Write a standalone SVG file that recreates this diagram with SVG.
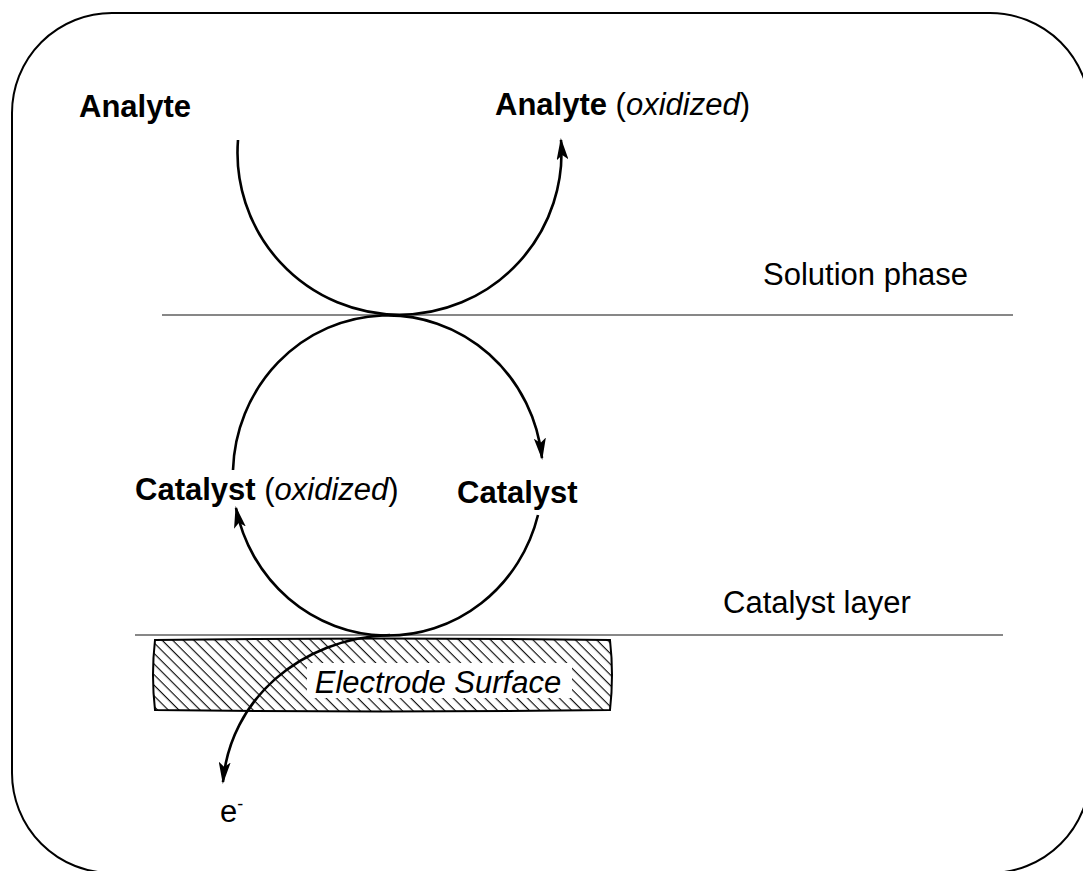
<svg xmlns="http://www.w3.org/2000/svg" width="1083" height="871" viewBox="0 0 1083 871">
<defs>
<style>
.t{font-family:"Liberation Sans",Arial,sans-serif;font-size:31px;fill:#000}
.b{font-weight:bold}
.i{font-style:italic}
.arc{fill:none;stroke:#000;stroke-width:2.6}
.ln{stroke:#111;stroke-width:1.1}
</style>
<marker id="ah" viewBox="0 0 22 12" refX="20" refY="6" markerWidth="22" markerHeight="12" markerUnits="userSpaceOnUse" orient="auto">
<path d="M0,0 L22,6 L0,12 L5,6 Z" fill="#000"/>
</marker>
<pattern id="hatch" patternUnits="userSpaceOnUse" width="7.5" height="7.5" patternTransform="rotate(45)">
<line x1="0" y1="0.6" x2="7.5" y2="0.6" stroke="#000" stroke-width="1.1"/>
</pattern>
</defs>
<rect x="12" y="13" width="1078" height="860" rx="100" ry="100" fill="#fff" stroke="#000" stroke-width="2"/>
<g id="layers">
<line class="ln" x1="162" y1="315" x2="1013" y2="315"/>
<line class="ln" x1="135" y1="635" x2="1003" y2="635"/>
</g>
<g id="electrode">
<path d="M155 640 Q383 637 610 640 Q614 675 610 710 Q383 713 155 710 Q151 675 155 640 Z" fill="url(#hatch)" stroke="#000" stroke-width="2"/>
<rect x="307" y="663" width="265" height="35" fill="#fff"/>
<text class="t i" x="438" y="693" text-anchor="middle" font-size="32">Electrode Surface</text>
</g>
<g id="connectors">
<path class="arc" d="M238 140 A162 162 0 1 0 561 140" marker-end="url(#ah)"/>
<path class="arc" d="M233 470 A155 160 0 0 1 542 458" marker-end="url(#ah)"/>
<path class="arc" d="M538 515 A155 160 0 0 1 236 508" marker-end="url(#ah)"/>
<path class="arc" d="M390 635 C300 638 230 700 223 782" marker-end="url(#ah)"/>
</g>
<g id="analyte"><text class="t b" x="79" y="117">Analyte</text></g>
<g id="analyte-ox"><text class="t" x="495" y="115"><tspan class="b">Analyte</tspan> (<tspan class="i">oxidized</tspan>)</text></g>
<g id="solution"><text class="t" x="763" y="285">Solution phase</text></g>
<g id="catalyst-ox"><text class="t" x="135" y="500"><tspan class="b">Catalyst</tspan> (<tspan class="i">oxidized</tspan>)</text></g>
<g id="catalyst"><text class="t b" x="457" y="503">Catalyst</text></g>
<g id="catalyst-layer"><text class="t" x="723" y="613">Catalyst layer</text></g>
<g id="electron"><text class="t" x="220" y="822">e<tspan font-size="18" dy="-12">-</tspan></text></g>
</svg>
